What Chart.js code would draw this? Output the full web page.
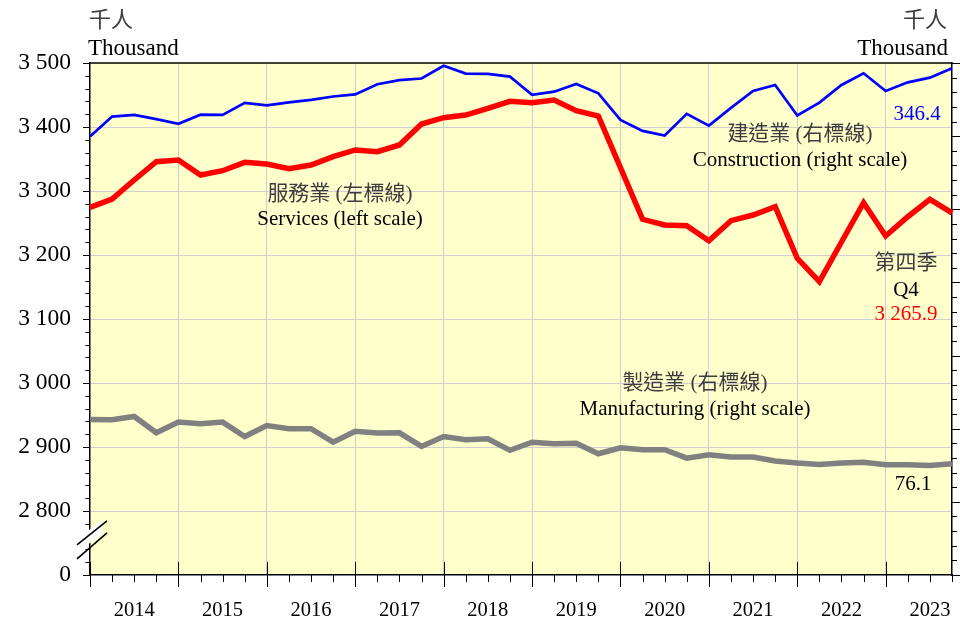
<!DOCTYPE html>
<html><head><meta charset="utf-8">
<script src="https://cdn.jsdelivr.net/npm/chart.js@4.4.0/dist/chart.umd.min.js"></script>
<style>
html,body{margin:0;padding:0;background:#fff;width:960px;height:622px;overflow:hidden;}
#wrap{position:relative;width:960px;height:622px;}
canvas{position:absolute;left:0;top:0;}
.t{position:absolute;white-space:nowrap;font-family:"Liberation Serif","Times New Roman",serif;color:#000;line-height:1.15;font-size:21px;transform:translate(-50%,-50%);}
.zh{font-family:"Liberation Serif","Noto Sans CJK TC","Noto Sans CJK SC",serif;color:#3c3c3c;}
.l{transform:translate(0,-50%);}
.r{transform:translate(-100%,-50%);}
</style></head>
<body><div id="wrap"><canvas id="c" width="960" height="622"></canvas>
<div class="t zh l" style="left:89px;top:20px;font-size:22px;">千人</div>
<div class="t l" style="left:88px;top:48px;font-size:23px;">Thousand</div>
<div class="t zh r" style="left:947px;top:20px;font-size:22px;">千人</div>
<div class="t r" style="left:948px;top:48px;font-size:23px;">Thousand</div>
<div class="t zh" style="left:340px;top:193px;">服務業 (左標線)</div>
<div class="t" style="left:340px;top:218px;">Services (left scale)</div>
<div class="t zh" style="left:800px;top:133px;">建造業 (右標線)</div>
<div class="t" style="left:800px;top:159px;">Construction (right scale)</div>
<div class="t zh" style="left:695px;top:382px;">製造業 (右標線)</div>
<div class="t" style="left:695px;top:408px;">Manufacturing (right scale)</div>
<div class="t" style="left:917px;top:113px;color:#0000ff;">346.4</div>
<div class="t zh" style="left:906px;top:262px;">第四季</div>
<div class="t" style="left:906px;top:289px;">Q4</div>
<div class="t" style="left:906px;top:313px;color:#ff0000;">3 265.9</div>
<div class="t" style="left:913px;top:483px;">76.1</div>
</div>
<script>
const quarters = [
 "2014 Q1","2014 Q2","2014 Q3","2014 Q4","2015 Q1","2015 Q2","2015 Q3","2015 Q4",
 "2016 Q1","2016 Q2","2016 Q3","2016 Q4","2017 Q1","2017 Q2","2017 Q3","2017 Q4",
 "2018 Q1","2018 Q2","2018 Q3","2018 Q4","2019 Q1","2019 Q2","2019 Q3","2019 Q4",
 "2020 Q1","2020 Q2","2020 Q3","2020 Q4","2021 Q1","2021 Q2","2021 Q3","2021 Q4",
 "2022 Q1","2022 Q2","2022 Q3","2022 Q4","2023 Q1","2023 Q2","2023 Q3","2023 Q4"];
// Services, left scale (thousand)
const services = [3274.5,3287.5,3317.2,3345.8,3348.4,3325.0,3331.7,3344.8,3342.2,3334.7,
 3340.6,3353.6,3364.1,3361.4,3371.9,3404.7,3414.5,3418.7,3429.2,3440.2,
 3438.0,3442.2,3425.5,3417.2,3336.4,3255.8,3246.9,3245.8,3222.3,3253.6,
 3262.5,3275.5,3194.8,3158.3,3220.3,3281.7,3229.7,3259.8,3287.0,3265.9];
// Construction, right scale (thousand)
const construction = [299.7,313.4,314.5,311.6,308.4,314.7,314.5,322.7,321.1,323.1,
 324.8,327.1,328.5,335.5,338.3,339.4,348.1,342.8,342.5,340.7,
 328.2,330.4,335.7,329.3,311.1,303.6,300.4,315.2,307.2,319.3,
 330.9,335.0,314.1,322.9,335.0,343.0,330.9,336.8,340.0,346.4];
// Manufacturing, right scale (thousand)
const manufacturing = [106.3,106.1,108.4,97.2,104.5,103.4,104.5,94.7,102.2,100.0,
 100.0,90.8,98.3,97.0,97.2,87.9,94.7,92.5,93.1,85.2,
 90.8,89.7,90.1,82.9,87.0,85.6,85.6,79.9,82.2,80.6,
 80.6,77.9,76.5,75.6,76.5,77.0,75.4,75.4,74.9,76.1];
// Left axis: broken scale, lowest tick shown as 0
const leftMin = 2700, leftMax = 3500, leftStep = 100, leftMinor = 20;
const rightMin = 0, rightMax = 350, rightMinor = 10, rightMajor = 50;

const GRID = '#cfcfcf';
const fmt = v => String(v).replace(/\B(?=(\d{3})+(?!\d))/g, ' ');

const decor = {
  id: 'decor',
  beforeDraw(chart) {
    const {ctx, chartArea: a} = chart;
    ctx.save();
    ctx.fillStyle = '#ffffcc';
    ctx.fillRect(a.left, a.top, a.right - a.left, a.bottom - a.top);
    ctx.restore();
  },
  afterDraw(chart) {
    const {ctx, chartArea: a, scales} = chart;
    const ys = scales.y, y2 = scales.y2, xs = scales.x;
    ctx.save();
    ctx.strokeStyle = '#000';
    ctx.lineWidth = 1.5;
    ctx.beginPath(); ctx.moveTo(a.left - 0.75, a.top); ctx.lineTo(a.right + 0.75, a.top); ctx.stroke();
    ctx.lineWidth = 1;
    for (let v = leftMin; v <= leftMax; v += leftMinor) {
      const y = Math.round(ys.getPixelForValue(v)) + 0.5;
      const len = v % leftStep === 0 ? 7 : 4.5;
      ctx.beginPath(); ctx.moveTo(a.left - len, y); ctx.lineTo(a.left, y); ctx.stroke();
    }
    for (let v = rightMin; v <= rightMax; v += rightMinor) {
      const y = Math.round(y2.getPixelForValue(v)) + 0.5;
      const len = v % rightMajor === 0 ? 8 : 5;
      ctx.beginPath(); ctx.moveTo(a.right, y); ctx.lineTo(a.right + len, y); ctx.stroke();
    }
    for (let i = 0; i < quarters.length; i++) {
      const x = Math.round(xs.getPixelForValue(i)) + 0.5;
      ctx.beginPath();
      if (i % 4 === 0) { ctx.moveTo(x, a.bottom - 13); ctx.lineTo(x, a.bottom + 12); }
      else { ctx.moveTo(x, a.bottom); ctx.lineTo(x, a.bottom + 7); }
      ctx.stroke();
    }
    const yc = ys.getPixelForValue(2755);
    const x0 = a.left - 13, x1 = a.left + 17;
    ctx.fillStyle = '#fff';
    ctx.beginPath();
    ctx.moveTo(x0 + 4, yc - 4); ctx.lineTo(x1 - 5, yc - 19);
    ctx.lineTo(x1 - 5, yc - 6); ctx.lineTo(x0 + 4, yc + 10);
    ctx.closePath(); ctx.fill();
    ctx.lineWidth = 1.6;
    ctx.beginPath(); ctx.moveTo(x0, yc + 5); ctx.lineTo(x1, yc - 19); ctx.stroke();
    ctx.beginPath(); ctx.moveTo(x0, yc + 19); ctx.lineTo(x1, yc - 7); ctx.stroke();
    ctx.restore();
  }
};

new Chart(document.getElementById('c'), {
  type: 'line',
  data: {
    labels: quarters,
    datasets: [
      {label: 'Manufacturing', data: manufacturing, yAxisID: 'y2', borderColor: '#808080', borderWidth: 5.5, pointRadius: 0, tension: 0},
      {label: 'Services', data: services, yAxisID: 'y', borderColor: '#ff0000', borderWidth: 5.5, pointRadius: 0, tension: 0},
      {label: 'Construction', data: construction, yAxisID: 'y2', borderColor: '#0000ff', borderWidth: 2.7, pointRadius: 0, tension: 0}
    ]
  },
  options: {
    responsive: false,
    animation: false,
    events: [],
    layout: {padding: {top: 63, left: 0, right: 0, bottom: 0}},
    plugins: {legend: {display: false}, tooltip: {enabled: false}},
    scales: {
      x: {
        type: 'category', offset: false,
        grid: {offset: false, drawTicks: false, color: c => (c.index > 0 && c.index % 4 === 0) ? GRID : 'rgba(0,0,0,0)'},
        border: {display: true, color: '#000', width: 1.5},
        ticks: {autoSkip: false, maxRotation: 0, minRotation: 0, padding: 23, color: '#000',
          font: {family: 'Liberation Serif', size: 20.5},
          callback: (v, i) => i % 4 === 2 ? quarters[i].slice(0, 4) : ''},
        afterFit: s => { s.height = 47; s.paddingLeft = 0; s.paddingRight = 0; }
      },
      y: {
        position: 'left', min: leftMin, max: leftMax,
        grid: {drawTicks: false, color: c => {
          const v = c.tick ? c.tick.value : 0;
          return (v % leftStep === 0 && v > leftMin && v < leftMax) ? GRID : 'rgba(0,0,0,0)';
        }},
        border: {display: true, color: '#000', width: 1.5},
        ticks: {stepSize: leftMinor, autoSkip: false, padding: 19, color: '#000',
          font: {family: 'Liberation Serif', size: 23.5},
          callback: v => v % leftStep === 0 ? (v === leftMin ? '0' : fmt(v)) : ''},
        afterFit: s => { s.width = 90; s.paddingTop = 0; s.paddingBottom = 0; }
      },
      y2: {
        position: 'right', min: rightMin, max: rightMax,
        grid: {drawOnChartArea: false, drawTicks: false},
        border: {display: true, color: '#000', width: 1.5},
        ticks: {display: false, stepSize: rightMinor},
        afterFit: s => { s.width = 8; s.paddingTop = 0; s.paddingBottom = 0; }
      }
    }
  },
  plugins: [decor]
});
</script>
</body></html>
